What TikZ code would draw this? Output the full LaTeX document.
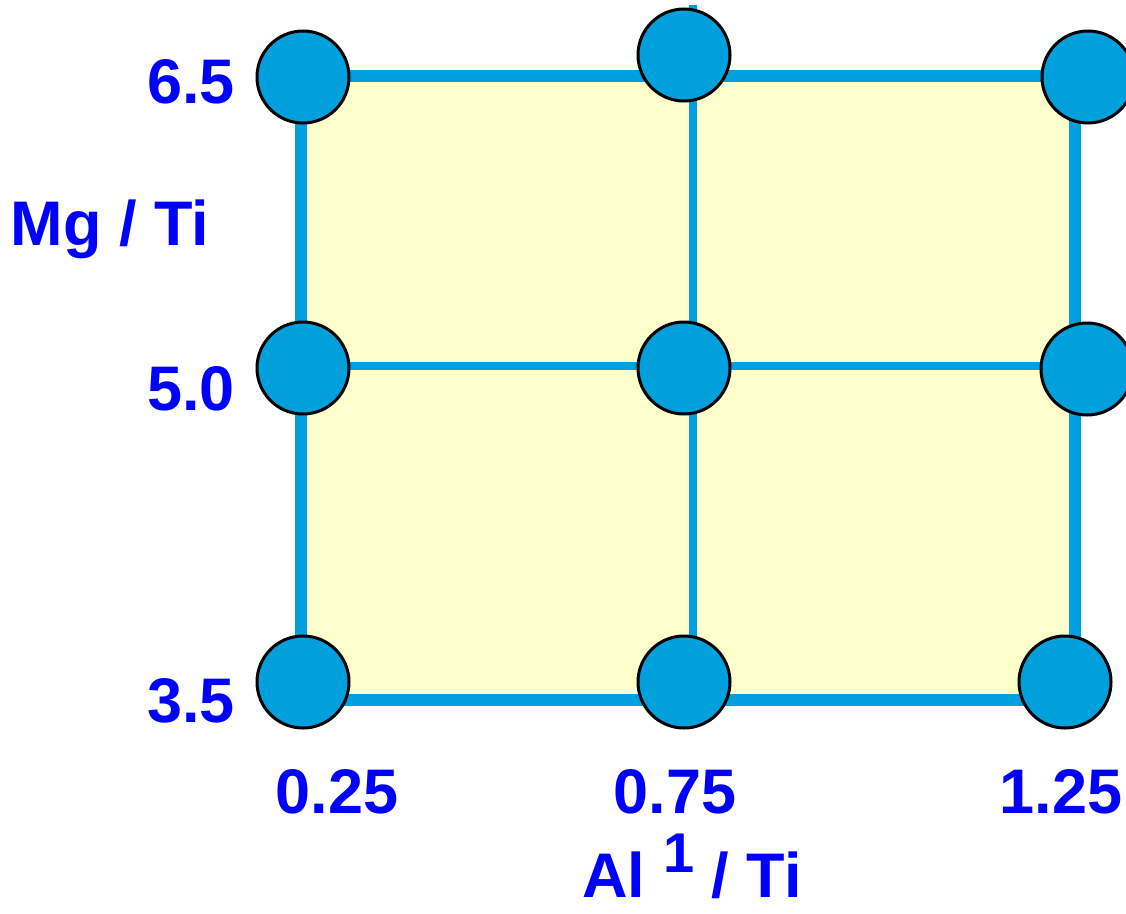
\documentclass[tikz,border=0pt]{standalone}
\usepackage{fontspec}
\setmainfont{Liberation Sans}
\definecolor{gridLine}{HTML}{009FDF}
\definecolor{gridFill}{HTML}{FFFFCC}
\definecolor{dotFill}{HTML}{00A0DC}
\definecolor{labelBlue}{HTML}{0000FF}

\begin{document}
\begin{tikzpicture}[x=1pt, y=-1pt,
  dot/.style={circle, draw=black, line width=3pt, fill=dotFill, minimum size=92pt, inner sep=0pt},
  lbl/.style={text=labelBlue, font=\bfseries\fontsize{63}{70}\selectfont, anchor=base, inner sep=0pt}]
  \useasboundingbox (0,0) rectangle (1126,913);
  % grid corners
  \coordinate (G00) at (301,76);   \coordinate (G10) at (693,76);   \coordinate (G20) at (1075,76);
  \coordinate (G01) at (301,366);  \coordinate (G21) at (1075,366);
  \coordinate (G02) at (301,700);  \coordinate (G12) at (693,700);  \coordinate (G22) at (1075,700);
  \coordinate (Gtop) at (693,5);
  \fill[gridFill] (G00) rectangle (G22);
  \draw[gridLine, line width=8pt] (Gtop) -- (G12);
  \draw[gridLine, line width=8pt] (G01) -- (G21);
  \draw[gridLine, line width=12pt] (G00) rectangle (G22);
  % design points
  \node[dot] (A) at (303,77) {};
  \node[dot] (B) at (684,55) {};
  \node[dot] (C) at (1088,77) {};
  \node[dot] (D) at (303,368) {};
  \node[dot] (E) at (684,368) {};
  \node[dot] (F) at (1087,369) {};
  \node[dot] (G) at (303,682) {};
  \node[dot] (H) at (684,682) {};
  \node[dot] (I) at (1065,682) {};
  % axis labels
  \node[lbl] (y65) at (191,103) {6.5};
  \node[lbl] (y50) at (191,410) {5.0};
  \node[lbl] (y35) at (191,722) {3.5};
  \node[lbl] (ytitle) at (110,245) {Mg / Ti};
  \node[lbl] (x025) at (337,813) {0.25};
  \node[lbl] (x075) at (675,813) {0.75};
  \node[lbl] (x125) at (1061,813) {1.25};
  \node[lbl, text depth=0pt] (xtitle) at (692,897) {Al \raisebox{25pt}{\fontsize{56}{60}\selectfont 1} / Ti};
\end{tikzpicture}
\end{document}
